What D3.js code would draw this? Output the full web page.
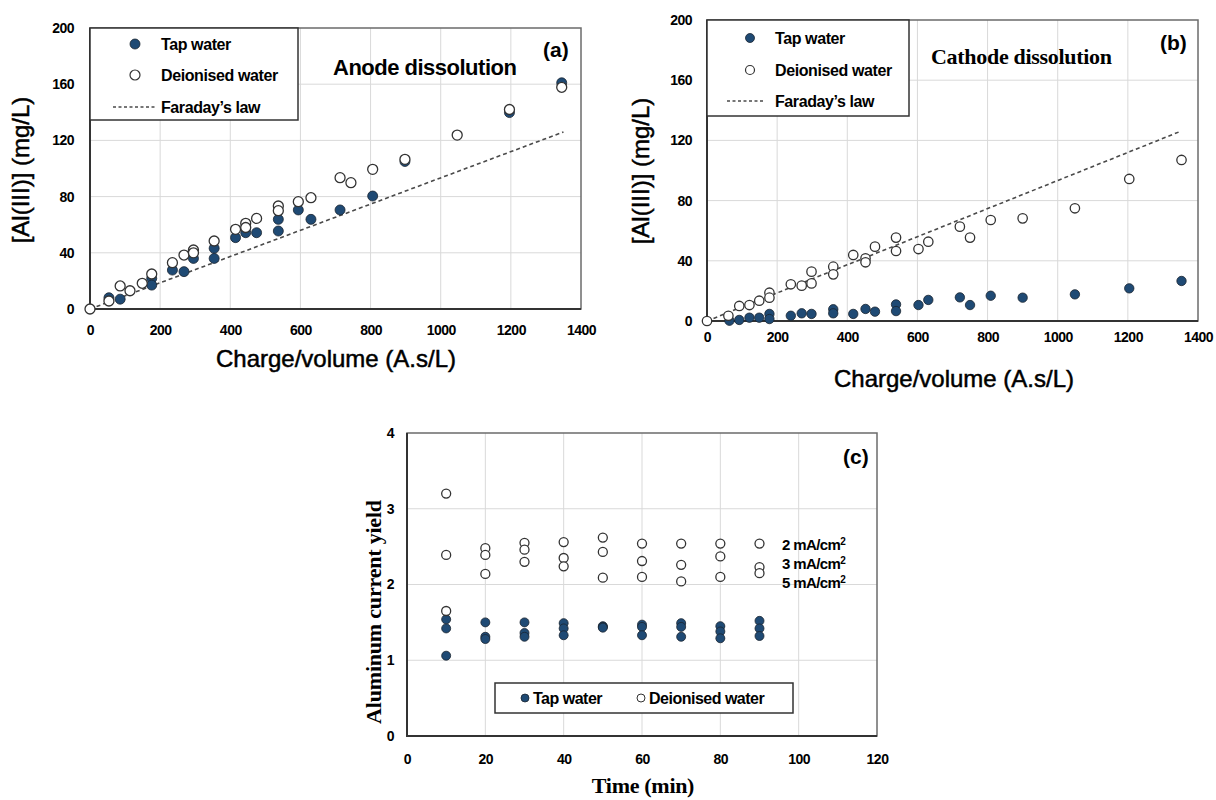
<!DOCTYPE html>
<html>
<head>
<meta charset="utf-8">
<script src="https://cdn.jsdelivr.net/npm/d3@7"></script>
<style>
    body { margin: 0; background: #fff; }
    svg text { font-family: "Liberation Sans", Arial, sans-serif; fill: #000; }
    .tick text { font-weight: bold; font-size: 14px; letter-spacing: -0.5px; }
    .serif { font-family: "Liberation Serif", "Times New Roman", serif !important; }
</style>
</head>
<body>
<div id="graph"></div>
<script>
// ---- (a) Anode dissolution ----
const anodeTapX = [54, 86, 176, 176, 235, 268, 295, 354, 354, 415, 444, 475, 537, 537, 594, 630, 713, 806, 898, 1196, 1345];
const anodeTapY = [8, 7, 21.8, 17, 27.7, 26.6, 36, 43.2, 36, 50.8, 54.3, 54.3, 63.8, 55.5, 70.5, 63.8, 70.5, 80.4, 105, 139.8, 161];
const anodeDiX = [0, 54, 86, 114, 149, 176, 235, 268, 295, 295, 354, 415, 444, 444, 475, 537, 537, 594, 630, 713, 744, 806, 898, 1047, 1196, 1345];
const anodeDiY = [0, 5.7, 16.4, 13, 18.3, 24.9, 33, 38.4, 42, 40, 48.4, 56.7, 61, 58, 64.5, 73.3, 70, 76.4, 79.2, 93.5, 89.9, 99.4, 106.5, 123.8, 142, 157.8];

// ---- (b) Cathode dissolution ----
const cathodeTapX = [64, 92, 121, 149, 178, 178, 239, 270, 298, 360, 360, 417, 452, 479, 539, 539, 603, 631, 721, 750, 809, 900, 1049, 1204, 1353];
const cathodeTapY = [0.2, 0.7, 2.2, 2.2, 4.7, 1.3, 3.5, 5.1, 4.7, 7.8, 5.1, 4.7, 8, 6.2, 11, 6.6, 10.6, 14, 15.7, 10.6, 16.8, 15.5, 17.7, 21.7, 26.6];
const cathodeDiX = [0, 61, 92, 121, 149, 178, 178, 239, 270, 298, 298, 360, 360, 417, 452, 452, 479, 539, 539, 603, 631, 721, 750, 809, 900, 1049, 1204, 1353];
const cathodeDiY = [0, 3.5, 10, 10.6, 13.5, 18.8, 15.5, 24.4, 23.5, 25, 32.8, 36.1, 31, 43.9, 41.6, 39, 49.4, 55.4, 46.5, 47.8, 52.7, 62.7, 55.4, 67.1, 68.2, 74.9, 94.4, 107];

// Faraday's law line (both panels)
const faradayX = [0, 1350];
const faradayY = [0, 126];

// ---- (c) Aluminum current yield ----
const timeMin = [10, 20, 30, 40, 50, 60, 70, 80, 90];
const diYield2 = [3.20, 2.48, 2.55, 2.56, 2.62, 2.54, 2.54, 2.54, 2.54];
const diYield3 = [2.39, 2.39, 2.46, 2.35, 2.43, 2.31, 2.26, 2.37, 2.23];
const diYield5 = [1.65, 2.14, 2.30, 2.24, 2.09, 2.10, 2.04, 2.10, 2.15];
const tapYield2 = [1.54, 1.50, 1.50, 1.49, 1.45, 1.47, 1.49, 1.45, 1.52];
const tapYield3 = [1.42, 1.31, 1.36, 1.42, 1.44, 1.44, 1.44, 1.38, 1.42];
const tapYield5 = [1.06, 1.28, 1.31, 1.33, 1.43, 1.33, 1.31, 1.29, 1.32];
const densityLabels = ["2 mA/cm", "3 mA/cm", "5 mA/cm"];

const chargeTicks = [0, 200, 400, 600, 800, 1000, 1200, 1400];
const alTicks = [0, 40, 80, 120, 160, 200];
const timeTicks = [0, 20, 40, 60, 80, 100, 120];
const yieldTicks = [0, 1, 2, 3, 4];

const TAP = "#1f4a74";
const zip = (xs, ys) => xs.map((v, i) => ({ x: v, y: ys[i] }));

const svg = d3.select("#graph").append("svg")
    .attr("width", 1216)
    .attr("height", 800);

svg.append("rect").attr("width", 1216).attr("height", 800).attr("fill", "#fff");

function drawPanel(p) {
    const x = d3.scaleLinear().domain(p.xDomain).range([p.left, p.right]);
    const y = d3.scaleLinear().domain(p.yDomain).range([p.bottom, p.top]);
    const g = svg.append("g");

    // Gridlines
    g.selectAll(".vgrid").data(p.xTicks.slice(1, -1)).join("line")
        .attr("x1", d => x(d)).attr("x2", d => x(d))
        .attr("y1", p.top).attr("y2", p.bottom)
        .attr("stroke", "#d9d9d9").attr("stroke-width", 1);
    g.selectAll(".hgrid").data(p.yTicks.slice(1, -1)).join("line")
        .attr("x1", p.left).attr("x2", p.right)
        .attr("y1", d => y(d)).attr("y2", d => y(d))
        .attr("stroke", "#d9d9d9").attr("stroke-width", 1);

    // Plot frame
    g.append("rect")
        .attr("x", p.left).attr("y", p.top)
        .attr("width", p.right - p.left).attr("height", p.bottom - p.top)
        .attr("fill", "none").attr("stroke", "#6b6b6b").attr("stroke-width", 1.5);
    g.append("path")
        .attr("d", `M${p.left},${p.top}V${p.bottom}H${p.right}`)
        .attr("fill", "none").attr("stroke", "#333").attr("stroke-width", 2);

    // Axes (labels only)
    g.append("g").attr("transform", `translate(0,${p.bottom})`)
        .call(d3.axisBottom(x).tickValues(p.xTicks).tickSize(0).tickPadding(p.xPad).tickFormat(d3.format("d")))
        .call(a => a.select(".domain").remove());
    g.append("g").attr("transform", `translate(${p.left},0)`)
        .call(d3.axisLeft(y).tickValues(p.yTicks).tickSize(0).tickPadding(p.yPad).tickFormat(d3.format("d")))
        .call(a => a.select(".domain").remove());
    g.selectAll(".tick text").attr("fill", "#000");

    return { x, y, g };
}

function drawLine(panel, xs, ys) {
    panel.g.append("path")
        .datum(zip(xs, ys))
        .attr("d", d3.line().x(d => panel.x(d.x)).y(d => panel.y(d.y)))
        .attr("fill", "none").attr("stroke", "#4a4a4a")
        .attr("stroke-width", 1.6).attr("stroke-dasharray", "4,3");
}

function drawPoints(panel, data, filled, r) {
    panel.g.append("g").selectAll("circle").data(data).join("circle")
        .attr("cx", d => panel.x(d.x))
        .attr("cy", d => panel.y(d.y))
        .attr("r", r)
        .attr("fill", filled ? TAP : "#fff")
        .attr("stroke", filled ? "#1a2430" : "#333")
        .attr("stroke-width", filled ? 0.8 : 1.3);
}

function drawLegend(box, rows) {
    const lg = svg.append("g");
    lg.append("rect")
        .attr("x", box.x).attr("y", box.y).attr("width", box.w).attr("height", box.h)
        .attr("fill", "#fff").attr("stroke", "#333").attr("stroke-width", 1.5);
    rows.forEach(row => {
        if (row.type === "line") {
            lg.append("line")
                .attr("x1", row.lx1).attr("x2", row.lx2).attr("y1", row.y).attr("y2", row.y)
                .attr("stroke", "#4a4a4a").attr("stroke-width", 1.4).attr("stroke-dasharray", "3,2.5");
        } else {
            lg.append("circle").attr("cx", row.mx).attr("cy", row.y).attr("r", row.r)
                .attr("fill", row.type === "tap" ? TAP : "#fff")
                .attr("stroke", row.type === "tap" ? "#1a2430" : "#333")
                .attr("stroke-width", row.type === "tap" ? 0.8 : 1.2);
        }
        lg.append("text").attr("x", row.tx).attr("y", row.y).attr("dy", "0.35em")
            .attr("font-size", 16).attr("font-weight", "bold").attr("letter-spacing", "-0.4px")
            .text(row.label);
    });
}

function axisTitle(text, x, y, opts) {
    const t = svg.append("text")
        .attr("text-anchor", "middle")
        .attr("dy", "0.35em")
        .attr("transform", `translate(${x},${y})` + (opts.rotate ? " rotate(-90)" : ""))
        .attr("font-size", opts.size)
        .attr("font-weight", opts.bold ? "bold" : "normal")
        .attr("stroke", opts.stroke ? "#000" : null)
        .attr("stroke-width", opts.stroke || null)
        .text(text);
    if (opts.serif) t.attr("class", "serif");
    if (opts.spacing) t.attr("letter-spacing", opts.spacing);
    return t;
}

// ---------- Panel (a) ----------
const pa = drawPanel({
    left: 90, right: 581, top: 28, bottom: 309,
    xDomain: [0, 1400], yDomain: [0, 200],
    xTicks: chargeTicks, yTicks: alTicks, xPad: 16, yPad: 16
});
drawLine(pa, faradayX, faradayY);
drawPoints(pa, zip(anodeTapX, anodeTapY), true, 5);
drawPoints(pa, zip(anodeDiX, anodeDiY), false, 5);
drawLegend({ x: 90, y: 28, w: 208, h: 92 }, [
    { type: "tap", mx: 135, r: 5, tx: 161, y: 44, label: "Tap water" },
    { type: "di", mx: 135, r: 5, tx: 161, y: 75, label: "Deionised water" },
    { type: "line", lx1: 113, lx2: 155, tx: 161, y: 107, label: "Faraday’s law" }
]);
svg.append("text").attr("x", 333).attr("y", 67).attr("dy", "0.35em")
    .attr("font-size", 22).attr("font-weight", "bold").attr("letter-spacing", "-0.5px")
    .text("Anode dissolution");
svg.append("text").attr("x", 543).attr("y", 50).attr("dy", "0.35em")
    .attr("font-size", 21).attr("font-weight", "bold").text("(a)");
axisTitle("[Al(III)] (mg/L)", 21, 170, { rotate: true, size: 24, stroke: 0.5 });
axisTitle("Charge/volume (A.s/L)", 336, 359, { size: 24, stroke: 0.5 });

// ---------- Panel (b) ----------
const pb = drawPanel({
    left: 707, right: 1198, top: 20, bottom: 321,
    xDomain: [0, 1400], yDomain: [0, 200],
    xTicks: chargeTicks, yTicks: alTicks, xPad: 11, yPad: 15
});
drawLine(pb, faradayX, faradayY);
drawPoints(pb, zip(cathodeTapX, cathodeTapY), true, 4.7);
drawPoints(pb, zip(cathodeDiX, cathodeDiY), false, 4.7);
drawLegend({ x: 707, y: 20, w: 202, h: 96 }, [
    { type: "tap", mx: 750, r: 4.5, tx: 775, y: 38, label: "Tap water" },
    { type: "di", mx: 750, r: 4.5, tx: 775, y: 70, label: "Deionised water" },
    { type: "line", lx1: 727, lx2: 765, tx: 775, y: 101, label: "Faraday’s law" }
]);
svg.append("text").attr("class", "serif").attr("x", 931).attr("y", 56).attr("dy", "0.35em")
    .attr("font-size", 22).attr("font-weight", "bold").attr("letter-spacing", "-0.3px")
    .text("Cathode dissolution");
svg.append("text").attr("x", 1160).attr("y", 43).attr("dy", "0.35em")
    .attr("font-size", 21).attr("font-weight", "bold").text("(b)");
axisTitle("[Al(III)] (mg/L)", 641, 171, { rotate: true, size: 24, stroke: 0.5 });
axisTitle("Charge/volume (A.s/L)", 954, 379, { size: 24, stroke: 0.5 });

// ---------- Panel (c) ----------
const pc = drawPanel({
    left: 407, right: 877, top: 433, bottom: 736,
    xDomain: [0, 120], yDomain: [0, 4],
    xTicks: timeTicks, yTicks: yieldTicks, xPad: 18, yPad: 13
});
[tapYield2, tapYield3, tapYield5].forEach(ys => drawPoints(pc, zip(timeMin, ys), true, 4.5));
[diYield2, diYield3, diYield5].forEach(ys => drawPoints(pc, zip(timeMin, ys), false, 4.5));

const dl = svg.append("g").selectAll("text").data(densityLabels).join("text")
    .attr("x", 782).attr("y", (d, i) => 545 + i * 19).attr("dy", "0.35em")
    .attr("font-size", 15).attr("font-weight", "bold").attr("letter-spacing", "-0.6px")
    .text(d => d);
dl.append("tspan").attr("font-size", 10).attr("dy", "-0.55em").text("2");

svg.append("text").attr("x", 843).attr("y", 457).attr("dy", "0.35em")
    .attr("font-size", 21).attr("font-weight", "bold").text("(c)");

const lgc = svg.append("g");
lgc.append("rect").attr("x", 495).attr("y", 683).attr("width", 298).attr("height", 30)
    .attr("fill", "#fff").attr("stroke", "#333").attr("stroke-width", 1.5);
lgc.append("circle").attr("cx", 525).attr("cy", 698).attr("r", 4)
    .attr("fill", TAP).attr("stroke", "#1a2430").attr("stroke-width", 0.8);
lgc.append("text").attr("x", 533).attr("y", 698).attr("dy", "0.35em")
    .attr("font-size", 16).attr("font-weight", "bold").attr("letter-spacing", "-0.5px").text("Tap water");
lgc.append("circle").attr("cx", 641).attr("cy", 698).attr("r", 4)
    .attr("fill", "#fff").attr("stroke", "#333").attr("stroke-width", 1);
lgc.append("text").attr("x", 649).attr("y", 698).attr("dy", "0.35em")
    .attr("font-size", 16).attr("font-weight", "bold").attr("letter-spacing", "-0.5px").text("Deionised water");

axisTitle("Aluminum current yield", 373, 612, { rotate: true, size: 22, bold: true, serif: true, spacing: "-0.2px" });
axisTitle("Time (min)", 643, 785, { size: 22, bold: true, serif: true, spacing: "-0.3px" });
</script>
</body>
</html>
